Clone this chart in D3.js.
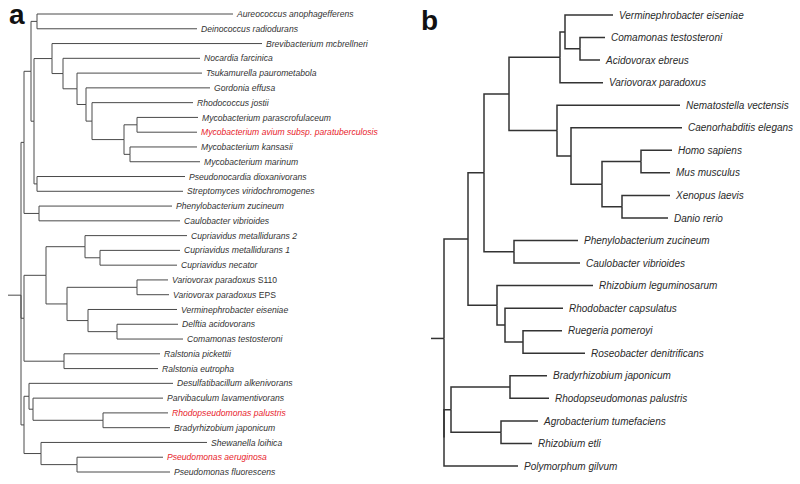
<!DOCTYPE html>
<html>
<head>
<meta charset="utf-8">
<script src="https://cdnjs.cloudflare.com/ajax/libs/d3/7.8.5/d3.min.js"></script>
<style>
  body { margin: 0; background: #fff; }
  svg { display: block; font-family: "Liberation Sans", Arial, sans-serif; }
  .branch { fill: none; }
</style>
</head>
<body>
<svg id="chart" width="800" height="484"></svg>
<script>
// ---- tree a ----
var leavesA = [
  "Aureococcus anophagefferens", "Deinococcus radiodurans", "Brevibacterium mcbrellneri",
  "Nocardia farcinica", "Tsukamurella paurometabola", "Gordonia effusa", "Rhodococcus jostii",
  "Mycobacterium parascrofulaceum", "Mycobacterium avium subsp. paratuberculosis",
  "Mycobacterium kansasii", "Mycobacterium marinum", "Pseudonocardia dioxanivorans",
  "Streptomyces viridochromogenes", "Phenylobacterium zucineum", "Caulobacter vibrioides",
  "Cupriavidus metallidurans 2", "Cupriavidus metallidurans 1", "Cupriavidus necator",
  "Variovorax paradoxus S110", "Variovorax paradoxus EPS", "Verminephrobacter eiseniae",
  "Delftia acidovorans", "Comamonas testosteroni", "Ralstonia pickettii", "Ralstonia eutropha",
  "Desulfatibacillum alkenivorans", "Parvibaculum lavamentivorans", "Rhodopseudomonas palustris",
  "Bradyrhizobium japonicum", "Shewanella loihica", "Pseudomonas aeruginosa", "Pseudomonas fluorescens"
];
// distance of each tip from the root
var tipsA = [212, 176, 241, 179, 181, 189, 172, 177, 176, 176, 179, 164, 162, 151, 159,
  166, 159, 156, 147, 148, 156, 157, 162, 139, 137, 152, 142, 147, 149, 186, 142, 149];
var highlightA = ["Mycobacterium avium subsp. paratuberculosis", "Rhodopseudomonas palustris", "Pseudomonas aeruginosa"];
// internal nodes: [id, distance from root, children] (numbers = leaf index)
var nodesA = [
  ["root", 0, ["a1", "a15", "a24"]],
  ["a1", 3, ["a2", "a14"]],
  ["a2", 10, ["a3", "a4"]],
  ["a3", 16, [0, 1]],
  ["a4", 13, ["a5", "a13"]],
  ["a5", 31, [2, "a6"]],
  ["a6", 42, [3, "a7"]],
  ["a7", 56, [4, "a8"]],
  ["a8", 65, [5, "a9"]],
  ["a9", 71, [6, "a10"]],
  ["a10", 103, ["a11", "a12"]],
  ["a11", 116, [7, 8]],
  ["a12", 109, [9, 10]],
  ["a13", 16, [11, 12]],
  ["a14", 18, [13, 14]],
  ["a15", 3, ["a16", "a23"]],
  ["a16", 25, ["a17", "a19"]],
  ["a17", 64, [15, "a18"]],
  ["a18", 79, [16, 17]],
  ["a19", 46, ["a20", "a21"]],
  ["a20", 116, [18, 19]],
  ["a21", 67, [20, "a22"]],
  ["a22", 96, [21, 22]],
  ["a23", 43, [23, 24]],
  ["a24", 3, ["a25", "a28"]],
  ["a25", 8, [25, "a26"]],
  ["a26", 12, [26, "a27"]],
  ["a27", 82, [27, 28]],
  ["a28", 20, [29, "a29"]],
  ["a29", 56, [30, 31]]
];

// ---- tree b ----
var leavesB = [
  "Verminephrobacter eiseniae", "Comamonas testosteroni", "Acidovorax ebreus", "Variovorax paradoxus",
  "Nematostella vectensis", "Caenorhabditis elegans", "Homo sapiens", "Mus musculus",
  "Xenopus laevis", "Danio rerio", "Phenylobacterium zucineum", "Caulobacter vibrioides",
  "Rhizobium leguminosarum", "Rhodobacter capsulatus", "Ruegeria pomeroyi", "Roseobacter denitrificans",
  "Bradyrhizobium japonicum", "Rhodopseudomonas palustris", "Agrobacterium tumefaciens",
  "Rhizobium etli", "Polymorphum gilvum"
];
var tipsB = [169, 161, 156, 159, 236, 238, 228, 226, 226, 224, 134, 136, 149, 119, 118, 141,
  103, 105, 94, 88, 74];
var nodesB = [
  ["root", 0, ["b1", "b20"]],
  ["b1", 24, ["b2", "b12"]],
  ["b2", 40, ["b3", "b11"]],
  ["b3", 65, ["b4", "b7"]],
  ["b4", 116, ["b5", 3]],
  ["b5", 121, [0, "b6"]],
  ["b6", 136, [1, 2]],
  ["b7", 113, [4, "b8"]],
  ["b8", 127, [5, "b9"]],
  ["b9", 158, ["b10", "b10x"]],
  ["b10", 197, [6, 7]],
  ["b10x", 178, [8, 9]],
  ["b11", 70, [10, 11]],
  ["b12", 53, [12, "b13"]],
  ["b13", 61, [13, "b14"]],
  ["b14", 79, [14, 15]],
  ["b20", 0, ["b21", 20]],
  ["b21", 7, ["b22", "b23"]],
  ["b22", 66, [16, 17]],
  ["b23", 57, [18, 19]]
];

var svg = d3.select('#chart');

// builds a d3 hierarchy out of the leaf / node tables
var build_tree = function(leaves, tips, nodes){
  var map = {};
  nodes.forEach(function(d){
    map[d[0]] = {name: d[0], depth: d[1], leaf: false};
  });
  nodes.forEach(function(d){
    map[d[0]].children = d[2].map(function(k){
      if (typeof k === 'number') return {name: leaves[k], depth: tips[k], index: k, leaf: true};
      return map[k];
    });
  });
  return d3.hierarchy(map['root']);
};

var draw_tree = function(opt){
  var root = build_tree(opt.leaves, opt.tips, opt.nodes);

  var xScale = d3.scaleLinear()
      .domain([0, 100])
      .range([opt.rootX, opt.rootX + 100]);
  var yScale = d3.scaleLinear()
      .domain([0, opt.leaves.length - 1])
      .range([opt.top, opt.bottom]);

  // leaves on the scale, inner nodes halfway along their children
  root.eachAfter(function(n){
    n.px = xScale(n.data.depth);
    n.py = n.children ? d3.mean(n.children, function(c){ return c.py; }) : yScale(n.data.index);
  });

  var g = svg.append('g');

  // root stub
  g.append('path')
      .attr('class', 'branch')
      .attr('d', 'M' + xScale(-13) + ',' + root.py + 'H' + root.px)
      .attr('stroke', opt.stroke)
      .attr('stroke-width', opt.lineWidth);

  g.selectAll('.link')
      .data(root.links())
    .enter().append('path')
      .attr('class', 'branch link')
      .attr('d', function(l){
        return 'M' + l.source.px + ',' + l.source.py + 'V' + l.target.py + 'H' + l.target.px;
      })
      .attr('stroke', opt.stroke)
      .attr('stroke-width', opt.lineWidth);

  var labels = g.selectAll('.label')
      .data(root.leaves())
    .enter().append('text')
      .attr('class', 'label')
      .attr('x', function(d){ return d.px + opt.gap; })
      .attr('y', function(d){ return d.py; })
      .attr('dy', '0.36em')
      .style('font-size', opt.fontSize + 'px')
      .attr('fill', function(d){
        return (opt.highlight || []).indexOf(d.data.name) >= 0 ? '#e8232b' : opt.textColor;
      });

  // strain codes (S110, EPS) stay upright, the rest is italic
  labels.each(function(d){
    var t = d3.select(this);
    d.data.name.split(' ').forEach(function(w, i){
      t.append('tspan')
        .text((i ? ' ' : '') + w)
        .style('font-style', /^[A-Z][A-Z0-9]+$/.test(w) ? 'normal' : 'italic');
    });
  });
};

draw_tree({leaves: leavesA, tips: tipsA, nodes: nodesA, highlight: highlightA,
  rootX: 21, top: 14, bottom: 472, gap: 4, fontSize: 8.6,
  stroke: '#4a4a4a', lineWidth: 1, textColor: '#333'});

draw_tree({leaves: leavesB, tips: tipsB, nodes: nodesB,
  rootX: 444, top: 15, bottom: 466, gap: 6, fontSize: 10,
  stroke: '#333', lineWidth: 1.5, textColor: '#2a2a2a'});

// panel letters
svg.append('text').text('a')
  .attr('x', 9).attr('y', 24)
  .style('font-size', '28px').style('font-weight', 'bold').attr('fill', '#111');
svg.append('text').text('b')
  .attr('x', 421).attr('y', 30)
  .style('font-size', '28px').style('font-weight', 'bold').attr('fill', '#111');
</script>
</body>
</html>
